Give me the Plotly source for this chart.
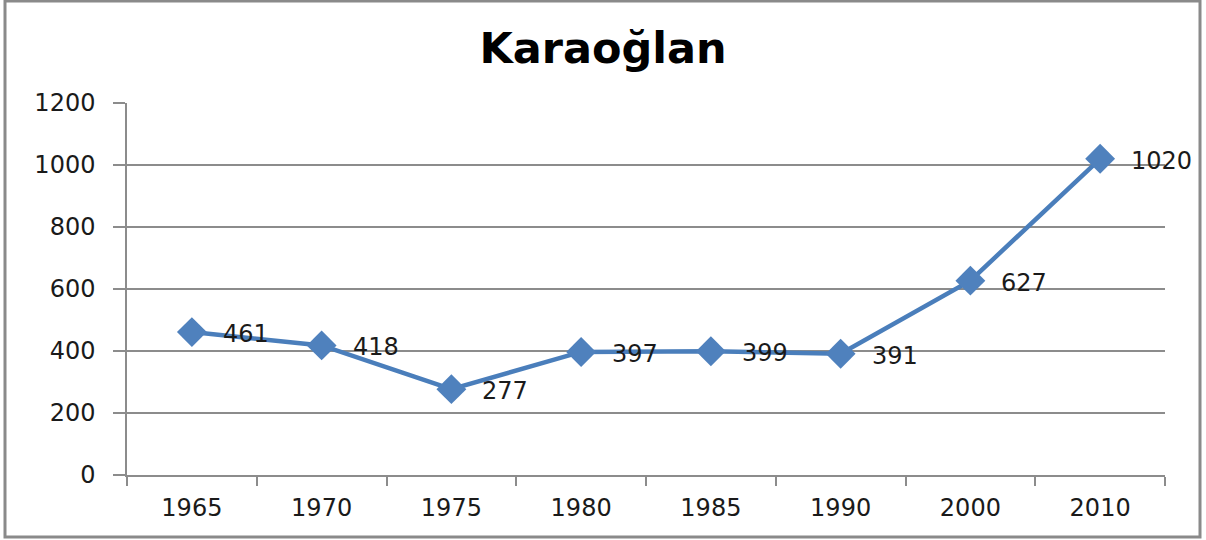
import plotly.graph_objects as go

years = ["1965", "1970", "1975", "1980", "1985", "1990", "2000", "2010"]
population = [461, 418, 277, 397, 399, 391, 627, 1020]
y_ticks = [0, 200, 400, 600, 800, 1000, 1200]
title_text = "Karaoğlan"

line_color = "#4A7EBB"
grid_color = "#8C8C8C"
font_family = "DejaVu Sans"

fig = go.Figure()
fig.add_trace(go.Scatter(
    x=years,
    y=population,
    mode="lines+markers",
    line=dict(color=line_color, width=4.5),
    marker=dict(symbol="diamond", size=23, color="#4F81BD"),
    cliponaxis=False,
    showlegend=False,
))

annotations = [
    dict(x=i, y=val, xref="x", yref="y", text=str(val), showarrow=False,
         xanchor="left", yanchor="middle", xshift=29, yshift=-2,
         font=dict(family=font_family, size=24, color="#1a1a1a"))
    for i, val in enumerate(population)
]

fig.update_layout(
    width=1206,
    height=540,
    margin=dict(l=127, r=41, t=103, b=65),
    paper_bgcolor="white",
    plot_bgcolor="white",
    title=dict(
        text="<b>" + title_text + "</b>",
        x=0.5, xref="container", xanchor="center",
        y=1 - 48 / 540, yref="container", yanchor="middle",
        font=dict(family=font_family, size=43, color="#000000"),
    ),
    xaxis=dict(
        type="category",
        range=[-0.5, len(years) - 0.5],
        tickson="boundaries",
        ticks="outside",
        ticklen=9,
        tickcolor=grid_color,
        tickwidth=1.5,
        showline=True,
        linecolor=grid_color,
        linewidth=1.5,
        showgrid=False,
        ticklabelstandoff=10,
        tickfont=dict(family=font_family, size=24, color="#1a1a1a"),
        fixedrange=True,
    ),
    yaxis=dict(
        range=[0, 1200],
        tickvals=y_ticks,
        ticks="outside",
        ticklen=12,
        tickcolor=grid_color,
        tickwidth=1.5,
        showline=True,
        linecolor=grid_color,
        linewidth=1.5,
        showgrid=True,
        gridcolor=grid_color,
        gridwidth=1.5,
        zeroline=False,
        ticklabelstandoff=13,
        tickfont=dict(family=font_family, size=24, color="#1a1a1a"),
        fixedrange=True,
    ),
    annotations=annotations,
    shapes=[dict(
        type="rect",
        xref="paper", yref="paper",
        x0=(5 - 127) / 1038, x1=(1200 - 127) / 1038,
        y0=(475 - 537) / 372, y1=(475 - 1) / 372,
        line=dict(color="#8A8A8A", width=3),
        fillcolor="rgba(0,0,0,0)",
        layer="below",
    )],
)

fig.write_html("out.html", config={"displayModeBar": False},
               post_script="document.body.style.margin='0';")
